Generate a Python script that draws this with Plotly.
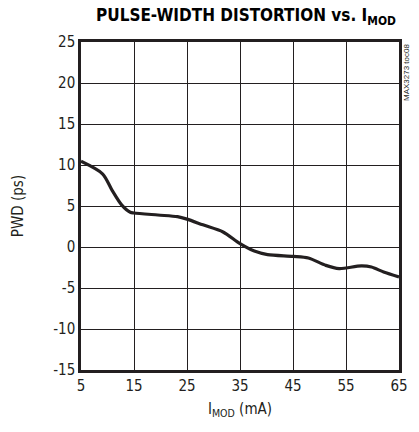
import plotly.graph_objects as go

imod_ma = [5, 9.1, 10.9, 12.7, 14.3, 15, 19.5, 23.2, 25, 28, 31.8, 35, 37.7, 40.2, 45, 47.9, 51.2, 53.7, 55, 57.9, 59.8, 62.1, 65]
pwd_ps = [10.45, 8.9, 6.87, 5.1, 4.23, 4.15, 3.9, 3.7, 3.4, 2.7, 1.83, 0.4, -0.5, -0.93, -1.14, -1.34, -2.24, -2.64, -2.56, -2.3, -2.44, -3.05, -3.65]

x_ticks = [5, 15, 25, 35, 45, 55, 65]
y_ticks = [-15, -10, -5, 0, 5, 10, 15, 20, 25]

FONT = "DejaVu Sans Condensed, Liberation Sans Narrow, sans-serif"

fig = go.Figure()
fig.add_trace(go.Scatter(
    x=imod_ma, y=pwd_ps, mode="lines",
    line=dict(color="#231f20", width=3.2, shape="spline", smoothing=0.8),
    showlegend=False, hoverinfo="skip",
))

fig.update_layout(
    width=419, height=432,
    margin=dict(l=81, r=11, t=42, b=62),
    paper_bgcolor="white", plot_bgcolor="white",
    font=dict(family=FONT, size=15, color="#231f20"),
    title=dict(
        text="<b>PULSE-WIDTH DISTORTION vs. I<sub>MOD</sub></b>",
        x=0.587, xanchor="center", y=0.978, yanchor="top",
        font=dict(family=FONT, size=17, color="#000000"),
    ),
    xaxis=dict(
        range=[5, 65], tickvals=x_ticks, ticktext=[str(v) for v in x_ticks],
        showgrid=True, gridcolor="#231f20", gridwidth=1,
        showline=True, linecolor="#231f20", linewidth=2.5, mirror=True,
        ticks="", zeroline=False,
        title=dict(text="I<sub>MOD</sub> (mA)", standoff=10, font=dict(size=15)),
        tickfont=dict(size=15),
    ),
    yaxis=dict(
        range=[-15, 25], tickvals=y_ticks, ticktext=[str(v) for v in y_ticks],
        showgrid=True, gridcolor="#231f20", gridwidth=1,
        showline=True, linecolor="#231f20", linewidth=2.5, mirror=True,
        ticks="", zeroline=False,
        title=dict(text="PWD (ps)", standoff=26, font=dict(size=15)),
        tickfont=dict(size=15),
    ),
    annotations=[dict(
        text="MAX3273 toc08", textangle=-90, showarrow=False,
        xref="paper", yref="paper", x=1.0, y=1.0, xanchor="left", yanchor="top",
        xshift=1, font=dict(family="Liberation Sans, Arial, sans-serif", size=8, color="#231f20"),
    )],
)

fig.write_html("out.html", config={"displayModeBar": False},
               post_script="document.body.style.margin='0';")
